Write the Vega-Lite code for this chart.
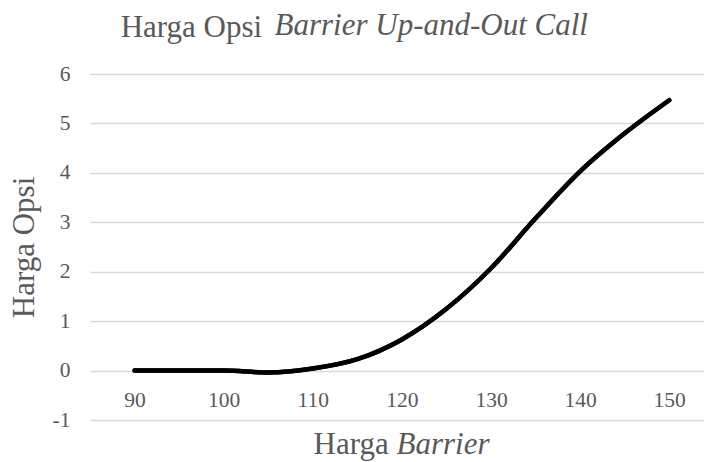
{
  "$schema": "https://vega.github.io/schema/vega-lite/v6.json",
  "autosize": {"type": "none"},
  "padding": {"left": 90, "top": 74, "right": 0, "bottom": 42},
  "width": 614,
  "height": 346,
  "background": "white",
  "title": {
    "text": "Harga Opsi",
    "anchor": "start",
    "frame": "group",
    "dx": 30.7,
    "offset": -58,
    "baseline": "alphabetic",
    "fontSize": 31,
    "font": "Liberation Serif",
    "fontWeight": "normal",
    "color": "#595959"
  },
  "data": {
    "values": [
      {"barrier": 90, "harga": 0},
      {"barrier": 95, "harga": 0},
      {"barrier": 100, "harga": 0},
      {"barrier": 105, "harga": -0.04},
      {"barrier": 110, "harga": 0.04},
      {"barrier": 115, "harga": 0.23},
      {"barrier": 120, "harga": 0.63},
      {"barrier": 125, "harga": 1.25},
      {"barrier": 130, "harga": 2.07},
      {"barrier": 135, "harga": 3.08},
      {"barrier": 140, "harga": 4.03},
      {"barrier": 145, "harga": 4.8},
      {"barrier": 150, "harga": 5.47}
    ]
  },
  "layer": [
    {
      "mark": {"type": "line", "color": "black", "strokeWidth": 4.5, "strokeCap": "round", "interpolate": "monotone"},
      "encoding": {
        "x": {
          "field": "barrier", "type": "quantitative",
          "scale": {"domain": [85, 153.9], "nice": false, "zero": false},
          "axis": {
            "orient": "bottom",
            "offset": -49.4,
            "values": [90, 100, 110, 120, 130, 140, 150],
            "grid": false, "domain": false, "ticks": false, "tickSize": 0,
            "labelPadding": 19,
            "labelFontSize": 21.5,
            "labelColor": "#595959",
            "title": "Harga",
            "titleX": 223,
            "titleY": 82.4,
            "titleAlign": "left",
            "titleBaseline": "alphabetic"
          }
        },
        "y": {
          "field": "harga", "type": "quantitative",
          "scale": {"domain": [-1, 6], "nice": false, "zero": false},
          "axis": {
            "orient": "left",
            "values": [-1, 0, 1, 2, 3, 4, 5, 6],
            "labelExpr": "datum.value + ''",
            "grid": true, "gridColor": "#d9d9d9", "gridWidth": 1.5,
            "domain": false, "ticks": false, "tickSize": 0,
            "labelPadding": 20,
            "labelFontSize": 21.5,
            "labelColor": "#595959",
            "labelBaseline": "middle",
            "title": "Harga Opsi",
            "titleAngle": -90,
            "titleX": -57,
            "titleY": 173,
            "titleAlign": "center",
            "titleBaseline": "alphabetic"
          }
        }
      }
    },
    {
      "mark": {"type": "line", "color": "black", "strokeWidth": 4.5, "strokeCap": "round", "interpolate": "monotone"},
      "encoding": {
        "x": {
          "field": "barrier", "type": "quantitative",
          "axis": {
            "orient": "top",
            "labels": false, "grid": false, "domain": false, "ticks": false,
            "title": "Barrier Up-and-Out Call",
            "titleFont": "Liberation Serif",
            "titleFontStyle": "italic",
            "titleX": 184,
            "titleY": -39.3,
            "titleAlign": "left",
            "titleBaseline": "alphabetic"
          }
        },
        "y": {
          "field": "harga", "type": "quantitative",
          "axis": {
            "orient": "right",
            "labels": false, "grid": false, "domain": false, "ticks": false,
            "title": "Barrier",
            "titleFontStyle": "italic",
            "titleAngle": 0,
            "titleX": -308,
            "titleY": 379.3,
            "titleAlign": "left",
            "titleBaseline": "alphabetic"
          }
        }
      }
    }
  ],
  "resolve": {"axis": {"x": "independent", "y": "independent"}},
  "config": {
    "view": {"stroke": null},
    "font": "Liberation Serif",
    "axis": {
      "labelFont": "Liberation Serif",
      "titleFont": "Liberation Serif",
      "titleFontSize": 31,
      "titleFontWeight": "normal",
      "titleColor": "#595959"
    }
  }
}
